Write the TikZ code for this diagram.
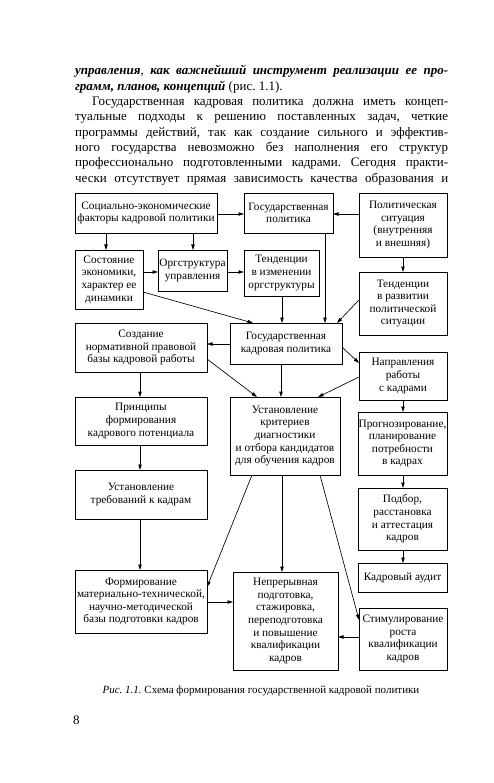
\documentclass[tikz,border=0pt]{standalone}
\usepackage{fontspec}
\setmainfont{Liberation Serif}
\usetikzlibrary{fit,arrows.meta}
\frenchspacing
\newcommand\bfitx[1]{\textbf{\textit{#1}}}
\newcommand\bodyf{\fontsize{13}{15.3}\selectfont}
\newcommand\bxx[6]{\node[boxst, fit={(#2,#3) (#4,#5)}] (#1) {};\node[txt] at (#1.center) {#6};}
\begin{document}
\begin{tikzpicture}[x=1pt,y=-1pt,
  boxst/.style={draw, line width=0.85pt, inner sep=0pt, outer sep=0pt},
  txt/.style={align=center, inner sep=0pt, font=\fontsize{11.3}{12.6}\selectfont},
  arr/.style={line width=0.65pt, -{Triangle[length=5.5pt,width=3.4pt]}},
  para/.style={anchor=base west, inner sep=0pt, font=\bodyf}]
\useasboundingbox[fill=white] (0,0) rectangle (493,783);
% paragraph
\node[para] (p1) at (75,75) {\hbox to 373pt{\bfitx{управления}, \bfitx{как важнейший инструмент реализации ее про-}}};
\node[para] (p2) at (75,90.3) {\bfitx{грамм, планов, концепций} (рис. 1.1).};
\node[para] (p3) at (92,105.6) {\hbox to 356pt{Государственная кадровая политика должна иметь концеп-}};
\node[para] (p4) at (75,120.9) {\hbox to 373pt{туальные подходы к решению поставленных задач, четкие}};
\node[para] (p5) at (75,136.2) {\hbox to 373pt{программы действий, так как создание сильного и эффектив-}};
\node[para] (p6) at (75,151.5) {\hbox to 373pt{ного государства невозможно без наполнения его структур}};
\node[para] (p7) at (75,166.8) {\hbox to 373pt{профессионально подготовленными кадрами. Сегодня практи-}};
\node[para] (p8) at (75,182.1) {\hbox to 373pt{чески отсутствует прямая зависимость качества образования и}};
% boxes
\bxx{soc}{75}{193}{217}{233}{Социально-экономические\\факторы кадровой политики}
\bxx{gp}{244}{193}{333}{233}{Государственная\\политика}
\bxx{pol}{359}{193}{447}{257}{Политическая\\ситуация\\(внутренняя\\и внешняя)}
\bxx{sost}{75}{250}{143}{309}{Состояние\\экономики,\\характер ее\\динамики}
\bxx{org}{158}{250}{227}{291}{Оргструктура\\управления}
\bxx{tiz}{244}{250}{319}{296}{Тенденции\\в изменении\\оргструктуры}
\bxx{trp}{359}{272}{447}{335}{Тенденции\\в развитии\\политической\\ситуации}
\bxx{gkp}{230}{323}{342}{364}{Государственная\\кадровая политика}
\bxx{soz}{75}{323}{207}{372}{Создание\\нормативной правовой\\базы кадровой работы}
\bxx{napr}{359}{352}{447}{400}{Направления\\работы\\с кадрами}
\bxx{prin}{75}{397}{207}{445}{Принципы\\формирования\\кадрового потенциала}
\bxx{ustk}{230}{397}{340}{475}{Установление\\критериев\\диагностики\\и отбора кандидатов\\для обучения кадров}
\bxx{prog}{358}{412}{447}{475}{Прогнозирование,\\планирование\\потребности\\в кадрах}
\bxx{ustt}{75}{470}{207}{519}{Установление\\требований к кадрам}
\bxx{podb}{358}{488}{447}{550}{Подбор,\\расстановка\\и аттестация\\кадров}
\bxx{audit}{358}{563}{447}{592}{Кадровый аудит}
\bxx{form}{75}{570}{207}{633}{Формирование\\материально-технической,\\научно-методической\\базы подготовки кадров}
\bxx{nepr}{233}{572}{338}{670}{Непрерывная\\подготовка,\\стажировка,\\переподготовка\\и повышение\\квалификации\\кадров}
\bxx{stim}{359}{608}{447}{670}{Стимулирование\\роста\\квалификации\\кадров}
% connectors
\draw[arr] (soc.east |- 0,214) -- (gp.west |- 0,214);
\draw[arr] (pol.west |- 0,214) -- (gp.east |- 0,214);
\draw[arr] (106,0 |- soc.south) -- (106,0 |- sost.north);
\draw[arr] (193,0 |- soc.south) -- (193,0 |- org.north);
\draw[arr] (sost.east |- 0,272) -- (org.west |- 0,272);
\draw[arr] (org.east |- 0,272) -- (tiz.west |- 0,272);
\draw[arr] (403,0 |- pol.south) -- (403,0 |- trp.north);
\draw[arr] (sost.east |- 0,292) -- (253,0 |- gkp.north);
\draw[arr] (282,0 |- tiz.south) -- (282,0 |- gkp.north);
\draw[arr] (325,0 |- gp.south) -- (325,0 |- gkp.north);
\draw[arr] (trp.west |- 0,300) -- (337,0 |- gkp.north);
\draw[arr] (gkp.west |- 0,344) -- (soz.east |- 0,344);
\draw[arr] (gkp.east |- 0,347) -- (napr.west |- 0,363);
\draw[arr] (281,0 |- gkp.south) -- (281,0 |- ustk.north);
\draw[arr] (soz.east |- 0,359) -- (257,0 |- ustk.north);
\draw[arr] (napr.west |- 0,377) -- (318,0 |- ustk.north);
\draw[arr] (403,0 |- napr.south) -- (403,0 |- prog.north);
\draw[arr] (140,0 |- soz.south) -- (140,0 |- prin.north);
\draw[arr] (140,0 |- prin.south) -- (140,0 |- ustt.north);
\draw[arr] (140,0 |- ustt.south) -- (140,0 |- form.north);
\draw[arr] (252,0 |- ustk.south) -- (form.east |- 0,587);
\draw[arr] (282,0 |- ustk.south) -- (282,0 |- nepr.north);
\draw[arr] (320,0 |- ustk.south) -- (stim.west |- 0,620);
\draw[arr] (403,0 |- prog.south) -- (403,0 |- podb.north);
\draw[arr] (403,0 |- podb.south) -- (403,0 |- audit.north);
\draw[arr] (form.east |- 0,602) -- (nepr.west |- 0,602);
\draw[arr] (stim.west |- 0,637) -- (nepr.east |- 0,637);
% caption and page number
\node[anchor=base, inner sep=0pt, font=\fontsize{11}{13}\selectfont] (cap) at (261,693) {\textit{Рис. 1.1.} Схема формирования государственной кадровой политики};
\node[anchor=base west, inner sep=0pt, font=\bodyf] (pg) at (73,724) {8};
\end{tikzpicture}
\end{document}
